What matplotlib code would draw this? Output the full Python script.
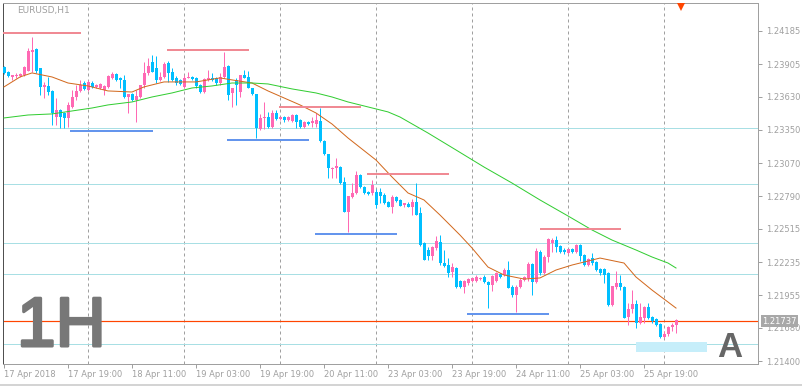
import matplotlib
matplotlib.use("Agg")
import matplotlib.pyplot as plt
import matplotlib.patheffects as pe
from matplotlib.lines import Line2D
from matplotlib.patches import Rectangle
import numpy as np

# EURUSD H1, 17 Apr 2018 03:00 .. 26 Apr 2018 03:00 (169 bars)
opens = [
    1.23881, 1.23839, 1.23797, 1.23805, 1.23805, 1.23814, 1.23848, 1.24008, 1.24033, 1.23873,
    1.23713, 1.23721, 1.23679, 1.23459, 1.23518, 1.23493, 1.23451, 1.23544, 1.23628, 1.23679,
    1.23746, 1.23687, 1.23746, 1.23713, 1.23704, 1.23687, 1.23713, 1.23789, 1.23822, 1.23789,
    1.23772, 1.23628, 1.23653, 1.23603, 1.23628, 1.23729, 1.23831, 1.23924, 1.23873, 1.23772,
    1.23797, 1.23915, 1.23839, 1.23789, 1.23772, 1.23713, 1.23789, 1.23797, 1.23789, 1.23729,
    1.23670, 1.23772, 1.23789, 1.23789, 1.23746, 1.23797, 1.23890, 1.23662, 1.23772, 1.23670,
    1.23814, 1.23797, 1.23704, 1.23653, 1.23358, 1.23451, 1.23459, 1.23375, 1.23493, 1.23442,
    1.23459, 1.23434, 1.23426, 1.23476, 1.23434, 1.23375, 1.23417, 1.23409, 1.23400, 1.23426,
    1.23257, 1.23147, 1.23020, 1.23029, 1.23037, 1.22911, 1.22658, 1.22784, 1.22818, 1.22970,
    1.22869, 1.22826, 1.22818, 1.22826, 1.22826, 1.22801, 1.22742, 1.22700, 1.22784, 1.22759,
    1.22717, 1.22725, 1.22700, 1.22742, 1.22649, 1.22396, 1.22337, 1.22286, 1.22354, 1.22404,
    1.22227, 1.22210, 1.22151, 1.22185, 1.22075, 1.22025, 1.22058, 1.22075, 1.22075, 1.22092,
    1.22109, 1.22067, 1.22041, 1.22075, 1.22134, 1.22126, 1.22168, 1.22025, 1.21957, 1.22025,
    1.22084, 1.22101, 1.22219, 1.22067, 1.22320, 1.22143, 1.22278, 1.22396, 1.22421, 1.22371,
    1.22337, 1.22312, 1.22345, 1.22320, 1.22379, 1.22295, 1.22210, 1.22269, 1.22236, 1.22176,
    1.22176, 1.22143, 1.21873, 1.22025, 1.22058, 1.22025, 1.21771, 1.21839, 1.21881, 1.21721,
    1.21763, 1.21856, 1.21771, 1.21754, 1.21712, 1.21603, 1.21628, 1.21687, 1.21704,
]
highs = [
    1.23890, 1.23848, 1.23814, 1.23831, 1.23831, 1.23890, 1.24042, 1.24135, 1.24042, 1.23873,
    1.23755, 1.23797, 1.23687, 1.23620, 1.23527, 1.23502, 1.23586, 1.23687, 1.23729, 1.23772,
    1.23763, 1.23772, 1.23763, 1.23738, 1.23746, 1.23729, 1.23814, 1.23839, 1.23831, 1.23797,
    1.23814, 1.23653, 1.23662, 1.23687, 1.23729, 1.23924, 1.23957, 1.23983, 1.23974, 1.23839,
    1.23924, 1.23932, 1.23873, 1.23805, 1.23780, 1.23814, 1.23839, 1.23805, 1.23797, 1.23738,
    1.23789, 1.23856, 1.23831, 1.23797, 1.23831, 1.24008, 1.23898, 1.23704, 1.23789, 1.23814,
    1.23856, 1.23848, 1.23704, 1.23653, 1.23485, 1.23586, 1.23502, 1.23518, 1.23518, 1.23459,
    1.23468, 1.23468, 1.23485, 1.23485, 1.23442, 1.23426, 1.23426, 1.23459, 1.23493, 1.23535,
    1.23265, 1.23147, 1.23037, 1.23113, 1.23046, 1.22953, 1.22793, 1.22902, 1.23004, 1.22978,
    1.22877, 1.22835, 1.22928, 1.22852, 1.22860, 1.22818, 1.22750, 1.22801, 1.22793, 1.22767,
    1.22733, 1.22742, 1.22767, 1.22902, 1.22700, 1.22404, 1.22362, 1.22371, 1.22455, 1.22463,
    1.22337, 1.22269, 1.22227, 1.22193, 1.22084, 1.22084, 1.22101, 1.22101, 1.22126, 1.22109,
    1.22126, 1.22075, 1.22126, 1.22151, 1.22143, 1.22185, 1.22244, 1.22041, 1.22041, 1.22101,
    1.22117, 1.22236, 1.22227, 1.22354, 1.22337, 1.22295, 1.22438, 1.22438, 1.22455, 1.22379,
    1.22354, 1.22345, 1.22354, 1.22387, 1.22387, 1.22303, 1.22269, 1.22312, 1.22244, 1.22185,
    1.22185, 1.22151, 1.22033, 1.22160, 1.22126, 1.22033, 1.21890, 1.21999, 1.21915, 1.21890,
    1.21864, 1.21890, 1.21780, 1.21763, 1.21721, 1.21653, 1.21695, 1.21721, 1.21754,
]
lows = [
    1.23822, 1.23797, 1.23772, 1.23789, 1.23797, 1.23805, 1.23848, 1.23839, 1.23831, 1.23645,
    1.23620, 1.23645, 1.23392, 1.23392, 1.23367, 1.23367, 1.23375, 1.23535, 1.23603, 1.23670,
    1.23687, 1.23679, 1.23704, 1.23704, 1.23696, 1.23645, 1.23704, 1.23780, 1.23763, 1.23704,
    1.23620, 1.23493, 1.23594, 1.23417, 1.23620, 1.23704, 1.23814, 1.23839, 1.23746, 1.23763,
    1.23789, 1.23755, 1.23763, 1.23729, 1.23729, 1.23704, 1.23789, 1.23772, 1.23704, 1.23662,
    1.23662, 1.23763, 1.23763, 1.23729, 1.23729, 1.23789, 1.23603, 1.23544, 1.23561, 1.23628,
    1.23789, 1.23704, 1.23645, 1.23282, 1.23350, 1.23358, 1.23367, 1.23367, 1.23434, 1.23434,
    1.23417, 1.23426, 1.23417, 1.23367, 1.23367, 1.23367, 1.23392, 1.23375, 1.23375, 1.23248,
    1.23139, 1.22944, 1.22944, 1.22944, 1.22894, 1.22658, 1.22489, 1.22776, 1.22809, 1.22860,
    1.22809, 1.22801, 1.22801, 1.22691, 1.22733, 1.22725, 1.22700, 1.22649, 1.22742, 1.22708,
    1.22700, 1.22700, 1.22632, 1.22632, 1.22371, 1.22252, 1.22252, 1.22252, 1.22337, 1.22210,
    1.22193, 1.22109, 1.22109, 1.22016, 1.22016, 1.21974, 1.22041, 1.22067, 1.22067, 1.22084,
    1.22058, 1.21847, 1.21991, 1.22067, 1.22101, 1.22117, 1.22016, 1.21940, 1.21814, 1.22016,
    1.22075, 1.22075, 1.21957, 1.22058, 1.22126, 1.22134, 1.22236, 1.22320, 1.22320, 1.22312,
    1.22303, 1.22303, 1.22312, 1.22312, 1.22244, 1.22202, 1.22202, 1.22210, 1.22160, 1.22126,
    1.22058, 1.21864, 1.21864, 1.22008, 1.21999, 1.21763, 1.21704, 1.21805, 1.21678, 1.21712,
    1.21721, 1.21754, 1.21721, 1.21695, 1.21594, 1.21594, 1.21611, 1.21653, 1.21636,
]
closes = [
    1.23831, 1.23805, 1.23814, 1.23814, 1.23822, 1.23881, 1.24016, 1.24025, 1.23848, 1.23713,
    1.23729, 1.23670, 1.23493, 1.23518, 1.23459, 1.23451, 1.23561, 1.23628, 1.23679, 1.23729,
    1.23696, 1.23755, 1.23713, 1.23729, 1.23738, 1.23721, 1.23805, 1.23822, 1.23772, 1.23772,
    1.23628, 1.23653, 1.23603, 1.23636, 1.23729, 1.23831, 1.23890, 1.23839, 1.23772, 1.23797,
    1.23907, 1.23831, 1.23772, 1.23746, 1.23738, 1.23789, 1.23797, 1.23780, 1.23721, 1.23670,
    1.23780, 1.23789, 1.23772, 1.23746, 1.23797, 1.23881, 1.23645, 1.23704, 1.23729, 1.23814,
    1.23789, 1.23704, 1.23653, 1.23367, 1.23451, 1.23459, 1.23375, 1.23493, 1.23442, 1.23459,
    1.23434, 1.23459, 1.23476, 1.23417, 1.23375, 1.23417, 1.23400, 1.23426, 1.23434, 1.23257,
    1.23147, 1.23029, 1.23029, 1.23046, 1.22902, 1.22658, 1.22793, 1.22818, 1.22970, 1.22869,
    1.22818, 1.22809, 1.22885, 1.22717, 1.22793, 1.22733, 1.22700, 1.22784, 1.22750, 1.22708,
    1.22733, 1.22700, 1.22742, 1.22632, 1.22379, 1.22252, 1.22286, 1.22362, 1.22413, 1.22227,
    1.22202, 1.22143, 1.22193, 1.22025, 1.22025, 1.22075, 1.22092, 1.22101, 1.22109, 1.22101,
    1.22067, 1.22041, 1.22117, 1.22143, 1.22109, 1.22168, 1.22016, 1.21957, 1.22025, 1.22084,
    1.22109, 1.22219, 1.22067, 1.22328, 1.22143, 1.22278, 1.22430, 1.22421, 1.22362, 1.22320,
    1.22320, 1.22345, 1.22320, 1.22379, 1.22286, 1.22210, 1.22261, 1.22227, 1.22168, 1.22143,
    1.22126, 1.21873, 1.22033, 1.22058, 1.22025, 1.21763, 1.21839, 1.21881, 1.21721, 1.21771,
    1.21856, 1.21763, 1.21738, 1.21704, 1.21603, 1.21628, 1.21687, 1.21704, 1.21746,
]

# moving averages (bar index, value)
ma_fast_bars = [0, 4, 7, 12, 16, 21, 26, 32, 35, 40, 48, 54, 57, 62, 66, 70, 74, 78, 82, 86,
                93, 97, 101, 105, 109, 114, 117, 121, 125, 130, 134, 138, 142, 149, 155, 158,
                162, 166, 168]
ma_fast = [1.23713, 1.23797, 1.23831, 1.23797, 1.23746, 1.23721, 1.23679, 1.23670, 1.23713,
           1.23755, 1.23755, 1.23789, 1.23772, 1.23746, 1.23679, 1.23620, 1.23561, 1.23493,
           1.23400, 1.23282, 1.23096, 1.22953, 1.22818, 1.22759, 1.22632, 1.22463, 1.22354,
           1.22193, 1.22126, 1.22092, 1.22101, 1.22168, 1.22210, 1.22269, 1.22227, 1.22109,
           1.21999, 1.21898, 1.21847]
ma_slow_bars = [0, 6, 12, 17, 22, 26, 32, 37, 42, 47, 52, 57, 62, 66, 72, 78, 82, 86, 91, 96,
                99, 106, 113, 120, 127, 134, 141, 147, 152, 158, 162, 166, 168]
ma_slow = [1.23451, 1.23476, 1.23485, 1.23510, 1.23535, 1.23561, 1.23586, 1.23628, 1.23662,
           1.23704, 1.23721, 1.23746, 1.23746, 1.23738, 1.23696, 1.23662, 1.23628, 1.23586,
           1.23544, 1.23502, 1.23459, 1.23324, 1.23181, 1.23037, 1.22902, 1.22759, 1.22624,
           1.22506, 1.22421, 1.22337, 1.22278, 1.22227, 1.22185]

# drawn objects
res_start = [-1, 40.75, 68.75, 90.75, 134]
res_end = [19.25, 61.25, 89.25, 111.25, 154.25]
res_level = [1.24168, 1.24025, 1.23544, 1.22978, 1.22514]
sup_start = [16.5, 55.75, 77.75, 115.75]
sup_end = [37.25, 76.25, 98.25, 136.25]
sup_level = [1.23341, 1.23265, 1.22468, 1.21797]
hlines = [1.23366, 1.22894, 1.22396, 1.22134, 1.21543]
zone = (158, 175.75, 1.21476, 1.21560)
bid = 1.21737

price_ticks = [1.24185, 1.23905, 1.23630, 1.23350, 1.23070, 1.22790, 1.22515,
               1.22235, 1.21955, 1.21680, 1.21400]
time_labels = ["17 Apr 2018", "17 Apr 19:00", "18 Apr 11:00", "19 Apr 03:00",
               "19 Apr 19:00", "20 Apr 11:00", "23 Apr 03:00", "23 Apr 19:00",
               "24 Apr 11:00", "25 Apr 03:00", "25 Apr 19:00"]
day_starts = [21, 45, 69, 93, 117, 141, 165]

W, H = 802, 386
GREY = "#a0a0a0"
PINK = "#ff69b4"
BLUE = "#00bfff"
PX = 72 / 100  # one pixel in points

fig = plt.figure(figsize=(W / 100, H / 100), dpi=100)
ax = fig.add_axes([3 / W, (H - 364) / H, 755 / W, 361 / H])

o = np.array(opens); h = np.array(highs); l = np.array(lows); c = np.array(closes)
x = np.arange(len(o))
up = c >= o
cols = np.where(up, PINK, BLUE)

ax.vlines(x, l, h, colors=cols, lw=PX, zorder=3)
body = np.maximum(np.abs(c - o), 0.00007)
ax.bar(x, body, bottom=np.minimum(o, c), width=0.75, color=cols, lw=0, zorder=4)

for d in day_starts:
    ax.axvline(d, color=GREY, lw=PX, ls=(0, (3, 3)), zorder=1)
for v in hlines:
    ax.axhline(v, color="#a8dfe4", lw=PX, zorder=2)

ax.set_xlim(-0.25, 188.5)
ax.set_ylim(1.21375, 1.24421)

ax.plot(ax.get_xlim(), [bid, bid], color="orangered", lw=1.2 * PX, zorder=2.5,
        solid_capstyle="butt")

ax.plot(ma_fast_bars, ma_fast, color="#d2691e", lw=PX, zorder=5)
ax.plot(ma_slow_bars, ma_slow, color="#32cd32", lw=PX, zorder=5)

ax.hlines(res_level, res_start, res_end, color="#f08a94", lw=2 * PX, zorder=6)
ax.hlines(sup_level, sup_start, sup_end, color="#6495ed", lw=2 * PX, zorder=6)
ax.add_patch(Rectangle((zone[0], zone[2]), zone[1] - zone[0], zone[3] - zone[2],
                       color="#c6eefa", lw=0, zorder=2))

ax.yaxis.tick_right()
ax.set_yticks(price_ticks)
ax.set_yticklabels([f"{p:.5f}" for p in price_ticks])
ax.set_xticks(np.arange(len(time_labels)) * 16)
ax.set_xticklabels(time_labels, ha="left")
ax.tick_params(axis="both", colors=GREY, labelcolor=GREY, labelsize=6,
               length=3, width=PX, direction="out")
ax.tick_params(axis="x", pad=1.5)
ax.tick_params(axis="y", pad=2.5)
for s in ax.spines.values():
    s.set_color(GREY)
    s.set_linewidth(PX)
ax.spines["left"].set_color("#505050")

# shift marker and symbol caption
ax.plot([169.25], [1 - 4 / 361], transform=ax.get_xaxis_transform(), marker="v",
        color="orangered", ms=6, mew=0, clip_on=False, zorder=7)
ax.plot([2.2], [0.978], transform=ax.transAxes, marker="v", color=GREY,
        ms=4, mew=0, clip_on=False)
fig.text(17 / W, 1 - 10 / H, "EURUSD,H1", color=GREY, fontsize=6.5, va="center")

# bid price box
fig.text(762 / W, 1 - 321 / H, f"{bid:.5f}", color="white", fontsize=6, va="center",
         bbox=dict(boxstyle="square,pad=0.15", fc="#a8a8a8", ec="none"), zorder=10)

fig.text(17 / W, 1 - 346 / H, "1H", family="Liberation Sans", fontsize=50,
         color="#777777", va="baseline", ha="left",
         path_effects=[pe.withStroke(linewidth=2.2, foreground="#777777")])
fig.text(717 / W, 1 - 357 / H, "A", family="Liberation Sans", fontsize=25,
         weight="bold", color="#666666", va="baseline", ha="left")

fig.add_artist(Line2D([0, 1], [1.5 / H, 1.5 / H], color="#d4d4d4", lw=2 * PX))

fig.savefig("out.png", dpi=100)
